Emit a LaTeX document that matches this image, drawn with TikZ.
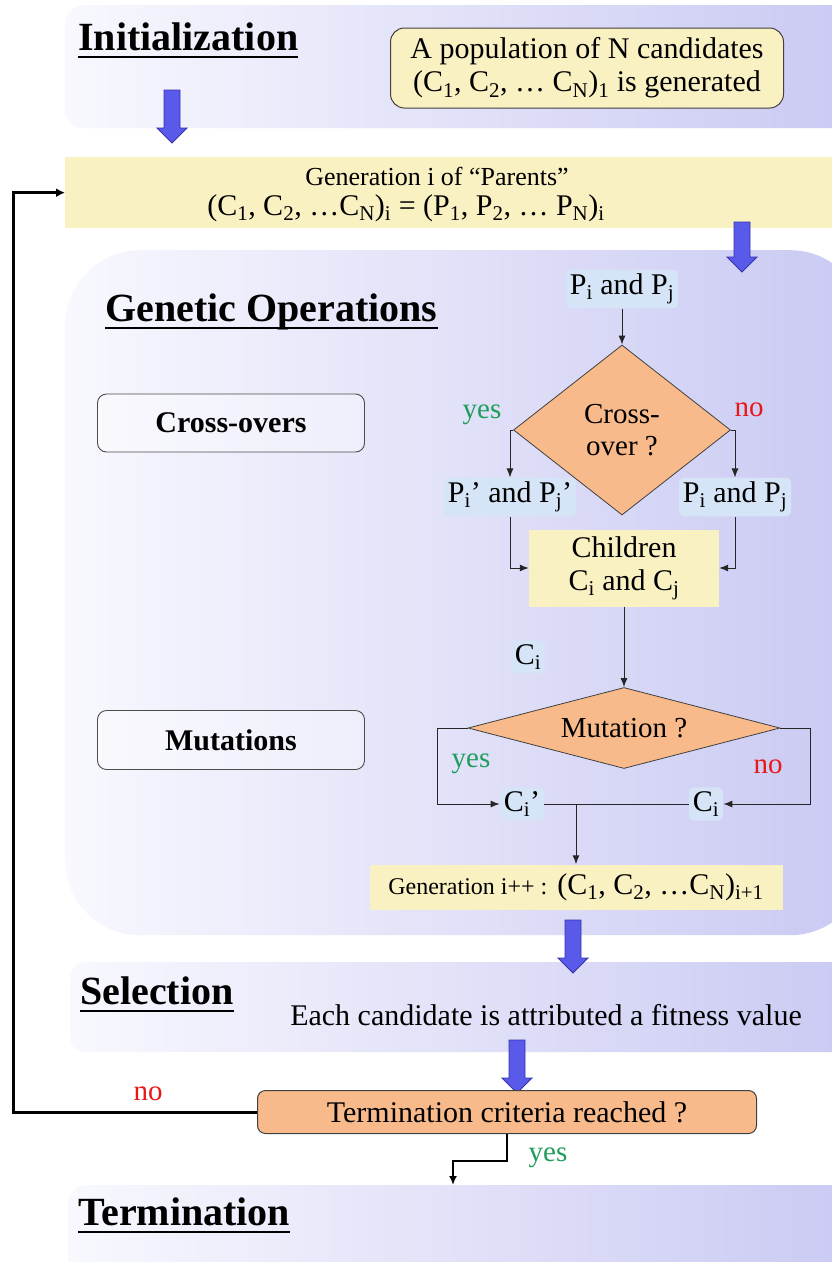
\documentclass[tikz,border=0pt]{standalone}
\usepackage{fontspec}
\setmainfont{Liberation Serif}
\usetikzlibrary{arrows.meta,shapes.geometric,calc}
\definecolor{panelL}{HTML}{F8F8FE}
\definecolor{panelR}{HTML}{C9C9F3}
\definecolor{ybox}{HTML}{FAF1C2}
\definecolor{obox}{HTML}{F8BA8A}
\definecolor{lblue}{HTML}{D5E4F6}
\definecolor{barrowF}{HTML}{5A5AEA}
\definecolor{barrowD}{HTML}{3434A8}
\definecolor{yesgreen}{HTML}{1E9E5A}
\definecolor{nored}{HTML}{E81818}
\newcommand\fsz[1]{\fontsize{#1}{1.1\dimexpr#1pt\relax}\selectfont}
\newcommand\blockarrow[3]{%
  \filldraw[fill=barrowF,draw=barrowD,line width=0.8]
    (#1-8,#2) -- (#1+8,#2) -- (#1+8,#3-15) -- (#1+15,#3-15) -- (#1,#3)
    -- (#1-15,#3-15) -- (#1-8,#3-15) -- cycle;}
\tikzset{
  panel/.style={left color=panelL, right color=panelR, draw=none, anchor=north west, inner sep=0},
  ttl/.style={font=\bfseries\fsz{40}, anchor=base west, inner sep=0},
  ybx/.style={fill=ybox, inner sep=0, align=center, font=\fsz{30}},
  lbl/.style={fill=lblue, inner sep=4, rounded corners=5, font=\fsz{30}},
  dia/.style={diamond, fill=obox, draw=black!75, line width=0.8, inner sep=0, align=center, font=\fsz{29}},
  opbox/.style={draw=black!70, line width=0.9, rounded corners=9, fill=white, fill opacity=0.35, text opacity=1, font=\bfseries\fsz{30}},
  conn/.style={draw=black!85, line width=1, -{Latex[length=9,width=7]}},
  thk/.style={draw=black, line width=3},
  yesl/.style={text=yesgreen, font=\fsz{29}, inner sep=0},
  nol/.style={text=nored, font=\fsz{29}, inner sep=0},
}
\begin{document}
\begin{tikzpicture}[x=1pt,y=-1pt]
\clip (0,0) rectangle (832,1262);
\fill[white] (0,0) rectangle (832,1262);
% panels
\node[panel, rounded corners=18, minimum width=800, minimum height=123] (initp) at (65,5) {};
\node[panel, rounded corners=75, minimum width=800, minimum height=685] (gop) at (65,250) {};
\node[panel, rounded corners=15, minimum width=800, minimum height=90] (selp) at (70,962) {};
\node[panel, rounded corners=18, minimum width=800, minimum height=110] (termp) at (68,1185) {};
% titles
\node[ttl] (t1) at (78,50) {Initialization};
\draw[line width=2.5] ([yshift=-7]t1.base west) -- ([yshift=-7]t1.base east);
\node[ttl] (t2) at (105,321) {Genetic Operations};
\draw[line width=2.5] ([yshift=-7]t2.base west) -- ([yshift=-7]t2.base east);
\node[ttl] (t3) at (80,1004) {Selection};
\draw[line width=2.5] ([yshift=-7]t3.base west) -- ([yshift=-7]t3.base east);
\node[ttl] (t4) at (78,1225) {Termination};
\draw[line width=2.5] ([yshift=-7]t4.base west) -- ([yshift=-7]t4.base east);
% initialization
\node[ybx, draw=black!75, line width=1, rounded corners=14, minimum width=393, minimum height=80] (pop) at (587,68)
  {A population of N candidates\\(C\textsubscript{1}, C\textsubscript{2}, … C\textsubscript{N})\textsubscript{1} is generated};
\blockarrow{172}{90}{143}
% generation box
\node[ybx, anchor=north west, minimum width=800, minimum height=71] (gen) at (65,157) {};
\node[font=\fsz{26}, inner sep=0] (gen1) at (437,176) {Generation i of “Parents”};
\node[font=\fsz{30}, inner sep=0] (gen2) at (406,208) {(C\textsubscript{1}, C\textsubscript{2}, …C\textsubscript{N})\textsubscript{i} = (P\textsubscript{1}, P\textsubscript{2}, … P\textsubscript{N})\textsubscript{i}};
\blockarrow{742}{222}{272}
% genetic operations
\node[opbox, minimum width=267, minimum height=58] (xo) at (231,423) {Cross-overs};
\node[opbox, minimum width=267, minimum height=59] (mu) at (231,740) {Mutations};
\node[lbl] (pp) at (622,289) {P\textsubscript{i} and P\textsubscript{j}};
\node[dia, shape aspect=1.28, minimum width=217, minimum height=170] (crossd) at (622,430) {Cross-\\over ?};
\node[yesl] (yes1) at (482,415) {yes};
\node[nol] (no1) at (749,410) {no};
\node[lbl] (ppd) at (510,497) {P\textsubscript{i}’ and P\textsubscript{j}’};
\node[lbl] (pp2) at (735,497) {P\textsubscript{i} and P\textsubscript{j}};
\node[ybx, minimum width=190, minimum height=77] (child) at (624,568) {Children\\C\textsubscript{i} and C\textsubscript{j}};
\node[lbl] (ci) at (528,657) {C\textsubscript{i}};
\node[dia, shape aspect=3.85, minimum width=312, minimum height=81] (mutd) at (624,728) {Mutation ?};
\node[yesl] (yes2) at (471,764) {yes};
\node[nol] (no2) at (768,767) {no};
\node[lbl] (cip) at (522,804) {C\textsubscript{i}’};
\node[lbl] (ci2) at (706,804) {C\textsubscript{i}};
\node[ybx, minimum width=413, minimum height=45] (geninc) at (576,887)
  {{\fsz{24}Generation i++ :} (C\textsubscript{1}, C\textsubscript{2}, …C\textsubscript{N})\textsubscript{i+1}};
\draw[conn] (pp) -- (crossd.north);
\draw[conn] (crossd.west) -| (ppd.north);
\draw[conn] (crossd.east) -| (pp2.north);
\draw[conn] (ppd.south) |- (child.west);
\draw[conn] (pp2.south) |- (child.east);
\draw[conn] (child.south) -- (mutd.north);
\draw[conn] (mutd.west) -- ++(-30,0) |- (cip.west);
\draw[conn] (mutd.east) -- ++(30,0) |- (ci2.east);
\draw[draw=black!85, line width=1] (cip.east) -- (ci2.west);
\draw[conn] (cip.east -| geninc.north) -- (geninc.north);
\blockarrow{573}{920}{973}
% selection
\node[font=\fsz{30}, inner sep=0] (sel) at (546,1015) {Each candidate is attributed a fitness value};
\blockarrow{517}{1040}{1093}
\node[fill=obox, draw=black!75, line width=1, rounded corners=8, minimum width=499, minimum height=43, font=\fsz{30}, inner sep=0] (term) at (507,1112) {Termination criteria reached ?};
\node[nol] (no3) at (148,1094) {no};
\node[yesl] (yes3) at (548,1158) {yes};
\coordinate (tin) at (453,1185);
\draw[thk, -{Latex[length=9,width=9]}] (term.west) -- ++(-244,0) |- (gen.west);
\draw[draw=black, line width=2.5, -{Latex[length=9,width=8]}] (term.south) -- ++(0,27) -| (tin);
\end{tikzpicture}
\end{document}
